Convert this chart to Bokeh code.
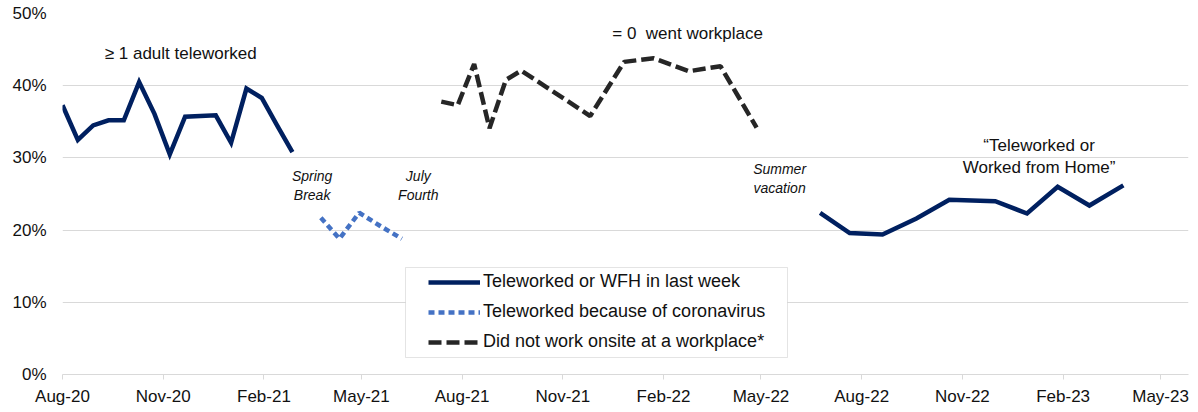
import pandas as pd
from bokeh.plotting import figure
from bokeh.models import (Range1d, FixedTicker, DatetimeTickFormatter, PrintfTickFormatter,
                          Legend, LegendItem, Label, BoxAnnotation, ColumnDataSource)
from bokeh.embed import file_html
from bokeh.resources import INLINE

# ---- data ----
tele1_dates = ["2020-08-01", "2020-08-15", "2020-08-29", "2020-09-12", "2020-09-26",
               "2020-10-10", "2020-10-24", "2020-11-07", "2020-11-21", "2020-12-05",
               "2020-12-19", "2021-01-02", "2021-01-16", "2021-01-30", "2021-02-13",
               "2021-02-27"]
tele1_values = [37.3, 32.5, 34.5, 35.2, 35.2, 40.5, 36.1, 30.5, 35.7, 35.8,
                35.9, 32.1, 39.6, 38.3, 34.5, 30.8]

covid_dates = ["2021-03-25", "2021-04-11", "2021-04-29", "2021-05-19", "2021-06-07"]
covid_values = [21.7, 18.8, 22.4, 20.5, 18.8]

onsite_dates = ["2021-07-13", "2021-07-28", "2021-08-12", "2021-08-26", "2021-09-10",
                "2021-09-24", "2021-11-26", "2021-12-27", "2022-01-23", "2022-02-24",
                "2022-03-25", "2022-04-27"]
onsite_values = [37.8, 37.3, 43.0, 34.1, 40.8, 42.1, 35.8, 43.3, 43.8, 42.0, 42.7, 34.2]

tele2_dates = ["2022-06-24", "2022-07-21", "2022-08-20", "2022-09-20", "2022-10-20",
               "2022-12-01", "2022-12-30", "2023-01-27", "2023-02-25", "2023-03-28"]
tele2_values = [22.4, 19.6, 19.4, 21.6, 24.2, 24.0, 22.3, 26.0, 23.4, 26.2]

tick_months = ["2020-08-01", "2020-11-01", "2021-02-01", "2021-05-01", "2021-08-01",
               "2021-11-01", "2022-02-01", "2022-05-01", "2022-08-01", "2022-11-01",
               "2023-02-01", "2023-05-01"]
y_ticks = [0, 10, 20, 30, 40, 50]

legend_labels = ["Teleworked or WFH in last week",
                 "Teleworked because of coronavirus",
                 "Did not work onsite at a workplace*"]

def ms(d):
    return pd.Timestamp(d).value / 1e6

FONT = "Liberation Sans"
NAVY = "#002060"
BLUE = "#4472C4"
DARK = "#262626"
TXT = "#111111"

p = figure(width=1198, height=412, x_axis_type="datetime",
           output_backend="svg", toolbar_location=None,
           x_range=Range1d(ms("2020-08-01"), ms("2023-05-26 12:00")),
           y_range=Range1d(0, 50),
           min_border_left=62, min_border_right=10, min_border_top=13, min_border_bottom=38)
p.outline_line_color = None
p.background_fill_color = "white"
p.border_fill_color = "white"

s1 = ColumnDataSource(dict(x=pd.to_datetime(tele1_dates), y=tele1_values))
s2 = ColumnDataSource(dict(x=pd.to_datetime(covid_dates), y=covid_values))
s3 = ColumnDataSource(dict(x=pd.to_datetime(onsite_dates), y=onsite_values))
s4 = ColumnDataSource(dict(x=pd.to_datetime(tele2_dates), y=tele2_values))

r1 = p.line("x", "y", source=s1, line_color=NAVY, line_width=4.5, line_join="miter")
r2 = p.line("x", "y", source=s2, line_color=BLUE, line_width=4.5, line_dash="6 4")
r3 = p.line("x", "y", source=s3, line_color=DARK, line_width=4.5, line_dash="13 5")
r4 = p.line("x", "y", source=s4, line_color=NAVY, line_width=4.5, line_join="miter")

# axes
p.xaxis.ticker = FixedTicker(ticks=[ms(d) for d in tick_months])
fmt = "%b-%y"
p.xaxis.formatter = DatetimeTickFormatter(microseconds=fmt, milliseconds=fmt, seconds=fmt,
                                          minsec=fmt, minutes=fmt, hourmin=fmt, hours=fmt,
                                          days=fmt, months=fmt, years=fmt)
p.xaxis.axis_line_color = "#d9d9d9"
p.xaxis.major_tick_line_color = "#d9d9d9"
p.xaxis.major_tick_out = 5
p.xaxis.major_tick_in = 0
p.xaxis.minor_tick_line_color = None
p.xaxis.major_label_standoff = 7
p.xaxis.major_label_text_font = FONT
p.xaxis.major_label_text_font_size = "17px"
p.xaxis.major_label_text_color = TXT

p.yaxis.ticker = FixedTicker(ticks=y_ticks)
p.yaxis.formatter = PrintfTickFormatter(format="%d%%")
p.yaxis.axis_line_color = None
p.yaxis.major_tick_line_color = None
p.yaxis.minor_tick_line_color = None
p.yaxis.major_tick_out = 0
p.yaxis.major_label_standoff = 16
p.yaxis.major_label_text_font = FONT
p.yaxis.major_label_text_font_size = "17px"
p.yaxis.major_label_text_color = TXT

p.xgrid.grid_line_color = None
p.ygrid.ticker = FixedTicker(ticks=y_ticks[1:])
p.ygrid.grid_line_color = "#d9d9d9"
p.ygrid.grid_line_width = 1

# annotations
def lab(x, y, text, size="17px", style="normal"):
    p.add_layout(Label(x=ms(x), y=y, text=text, text_align="center", text_baseline="middle",
                       text_font=FONT, text_font_size=size, text_font_style=style,
                       text_color=TXT))

lab("2020-11-17", 44.4, "\u2265 1 adult teleworked")
lab("2022-02-23", 47.2, "= 0\u00a0 went workplace")
lab("2021-03-17", 26.2, "Spring\nBreak", "14px", "italic")
lab("2021-06-22", 26.2, "July\nFourth", "14px", "italic")
lab("2022-05-18", 27.2, "Summer\nvacation", "14px", "italic")
lab("2023-01-10", 30.2, "\u201cTeleworked or\nWorked from Home\u201d")

# legend box
box = BoxAnnotation(left=343, right=725, top=107, bottom=17,
                    left_units="screen", right_units="screen",
                    top_units="screen", bottom_units="screen",
                    fill_color="white", fill_alpha=1.0,
                    line_color="#a6a6a6", line_width=1)
p.add_layout(box)

legend = Legend(items=[LegendItem(label=legend_labels[0], renderers=[r1]),
                       LegendItem(label=legend_labels[1], renderers=[r2]),
                       LegendItem(label=legend_labels[2], renderers=[r3])],
                location=(366, 22), padding=0, margin=0,
                border_line_color=None, background_fill_alpha=0,
                glyph_width=52, glyph_height=20, label_height=20, spacing=9,
                label_standoff=3, label_text_font=FONT, label_text_font_size="18px",
                label_text_color=TXT)
p.add_layout(legend)

open("out.html", "w").write(file_html(p, INLINE))
